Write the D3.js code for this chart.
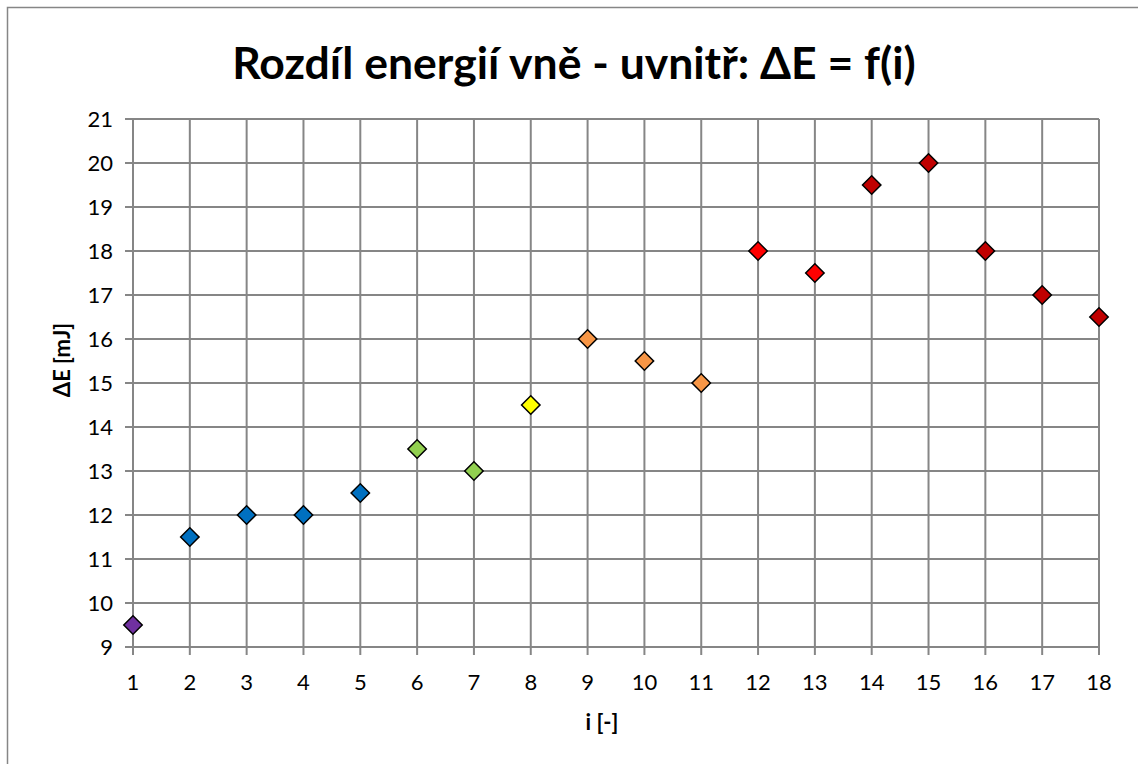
<!DOCTYPE html>
<html><head><meta charset="utf-8">
<script src="https://cdn.jsdelivr.net/npm/d3@7/dist/d3.min.js"></script>
<style>body{margin:0;background:#fff}svg{display:block}text{font-family:Lato,"Open Sans",sans-serif}</style>
</head><body><svg id="c" width="1138" height="764"></svg>
<script>
const xValues = [1,2,3,4,5,6,7,8,9,10,11,12,13,14,15,16,17,18];
const yValues = [9.5,11.5,12,12,12.5,13.5,13,14.5,16,15.5,15,18,17.5,19.5,20,18,17,16.5];
const pointColors = ["#7030A0","#0070C0","#0070C0","#0070C0","#0070C0","#92D050","#92D050","#FFFF00","#F79646","#F79646","#F79646","#FF0000","#FF0000","#C00000","#C00000","#C00000","#C00000","#C00000"];
const xTicks = d3.range(1,19);
const yTicks = d3.range(9,22);
const title = "Rozdíl energií vně - uvnitř: ΔE = f(i)";
const xTitle = "i [-]";
const yTitle = "ΔE [mJ]";

const svg = d3.select("#c");
svg.append("rect").attr("x",7.5).attr("y",7.5).attr("width",1200).attr("height",900)
  .attr("fill","#fff").attr("stroke","#868686").attr("stroke-width",1.5);

const x = d3.scaleLinear().domain([1,18]).range([133,1099]);
const y = d3.scaleLinear().domain([9,21]).range([647,119]);

const grid = svg.append("g").attr("stroke","#868686").attr("stroke-width",2);
grid.selectAll("line.h").data(yTicks).join("line")
  .attr("x1",125).attr("x2",1099).attr("y1",d=>y(d)).attr("y2",d=>y(d));
grid.selectAll("line.v").data(xTicks).join("line")
  .attr("x1",d=>x(d)).attr("x2",d=>x(d)).attr("y1",119).attr("y2",655);

svg.append("g").selectAll("text").data(yTicks).join("text")
  .attr("x",113).attr("y",d=>y(d)).attr("dy","0.36em").attr("text-anchor","end")
  .attr("font-size",22).attr("fill","#000").text(d=>d);
svg.append("g").selectAll("text").data(xTicks).join("text")
  .attr("x",d=>x(d)).attr("y",682).attr("dy","0.36em").attr("text-anchor","middle")
  .attr("font-size",22).attr("fill","#000").text(d=>d);

const sym = d3.symbol().type(d3.symbolSquare).size(170);
svg.append("g").selectAll("path").data(xValues).join("path")
  .attr("d",sym)
  .attr("transform",(d,i)=>`translate(${x(d)},${y(yValues[i])}) rotate(45)`)
  .attr("fill",(d,i)=>pointColors[i]).attr("stroke","#000").attr("stroke-width",1.5);

svg.append("text").attr("x",574).attr("y",79).attr("text-anchor","middle")
  .attr("font-size",44.5).attr("font-weight","bold").text(title);
svg.append("text").attr("x",602).attr("y",722).attr("dy","0.36em").attr("text-anchor","middle")
  .attr("font-size",22).attr("font-weight","bold").text(xTitle);
svg.append("text").attr("transform","translate(62,360) rotate(-90)").attr("dy","0.36em")
  .attr("text-anchor","middle").attr("font-size",22).attr("font-weight","bold").text(yTitle);
</script></body></html>
